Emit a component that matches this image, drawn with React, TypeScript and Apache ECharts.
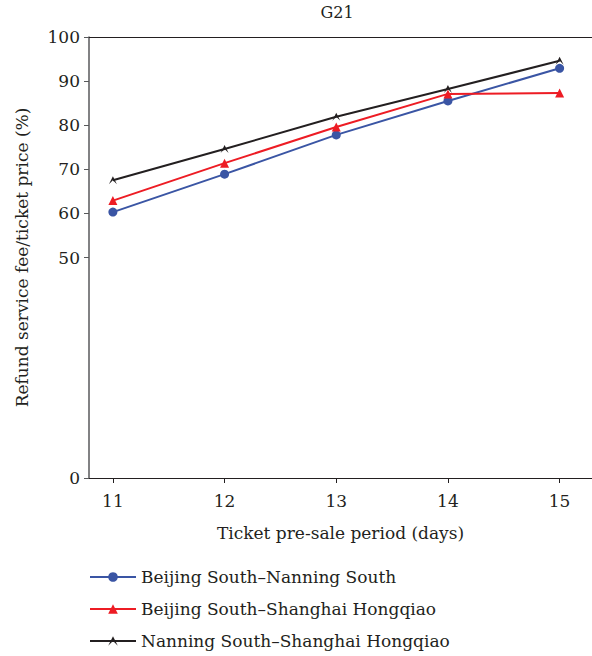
import React, { useEffect, useRef } from "react";
import * as echarts from "echarts";

const days = [11, 12, 13, 14, 15];
const bjNanning = [60.3, 68.9, 77.8, 85.5, 92.9];
const bjShanghai = [62.9, 71.4, 79.6, 87.1, 87.3];
const nnShanghai = [67.5, 74.6, 81.9, 88.2, 94.6];
const yTickValues = [0, 50, 60, 70, 80, 90, 100];
const seriesNames = [
  "Beijing South\u2013Nanning South",
  "Beijing South\u2013Shanghai Hongqiao",
  "Nanning South\u2013Shanghai Hongqiao",
];

const FONT = "DejaVu Serif";
const INK = "#231f20";

export default function App() {
  const ref = useRef<HTMLDivElement>(null);
  useEffect(() => {
    document.body.style.margin = "0";
    const chart = echarts.init(ref.current!, null, { renderer: "svg" });
    const pair = (vals: number[]) => days.map((d, i) => [d, vals[i]]);
    chart.setOption({
      animation: false,
      textStyle: { fontFamily: FONT, color: INK },
      title: {
        text: "G21",
        left: 337,
        textAlign: "center",
        top: 4,
        padding: 0,
        textStyle: { fontFamily: FONT, fontSize: 16, fontWeight: "normal", color: INK },
      },
      grid: { left: 89, right: 0, top: 37, bottom: 178, containLabel: false },
      legend: {
        orient: "vertical",
        left: 89,
        top: 568,
        padding: 0,
        itemWidth: 46,
        itemHeight: 12,
        itemGap: 14,
        textStyle: { fontFamily: FONT, fontSize: 17, color: INK, lineHeight: 18 },
        data: seriesNames,
      },
      xAxis: [
        {
          type: "value",
          min: 10.786,
          max: 15.29,
          name: "Ticket pre-sale period (days)",
          nameLocation: "middle",
          nameGap: 46,
          nameTextStyle: { fontFamily: FONT, fontSize: 17, color: INK },
          axisLine: { show: true, onZero: false, lineStyle: { color: INK, width: 1.2 } },
          axisTick: { show: true, length: 5, customValues: days, lineStyle: { color: INK } },
          axisLabel: { customValues: days, margin: 14, fontFamily: FONT, fontSize: 17, color: INK },
          splitLine: { show: false },
        },
        {
          type: "value",
          position: "top",
          min: 10.786,
          max: 15.29,
          axisLine: { show: true, onZero: false, lineStyle: { color: INK, width: 1.2 } },
          axisTick: { show: false },
          axisLabel: { show: false },
          splitLine: { show: false },
        },
      ],
      yAxis: {
        type: "value",
        min: 0,
        max: 100,
        name: "Refund service fee/ticket price (%)",
        nameLocation: "middle",
        nameGap: 59,
        nameTextStyle: { fontFamily: FONT, fontSize: 17, color: INK },
        axisLine: { show: true, onZero: false, lineStyle: { color: "#58595b", width: 1.5 } },
        axisTick: { show: true, length: 5, customValues: yTickValues, lineStyle: { color: "#58595b" } },
        axisLabel: { customValues: yTickValues, margin: 9, fontFamily: FONT, fontSize: 17, color: INK },
        splitLine: { show: false },
      },
      series: [
        {
          name: seriesNames[0],
          type: "line",
          data: pair(bjNanning),
          symbol: "circle",
          symbolSize: 9,
          color: "#3a55a4",
          lineStyle: { width: 2 },
        },
        {
          name: seriesNames[1],
          type: "line",
          data: pair(bjShanghai),
          symbol: "triangle",
          symbolSize: 9,
          color: "#ed1c24",
          lineStyle: { width: 2 },
        },
        {
          name: seriesNames[2],
          type: "line",
          data: pair(nnShanghai),
          symbol: "path://M0,10 L5,0 L10,10 L5,5 Z",
          symbolSize: 8,
          color: INK,
          lineStyle: { width: 2 },
        },
      ],
    });
    return () => chart.dispose();
  }, []);
  return <div ref={ref} style={{ width: 592, height: 656 }} />;
}
